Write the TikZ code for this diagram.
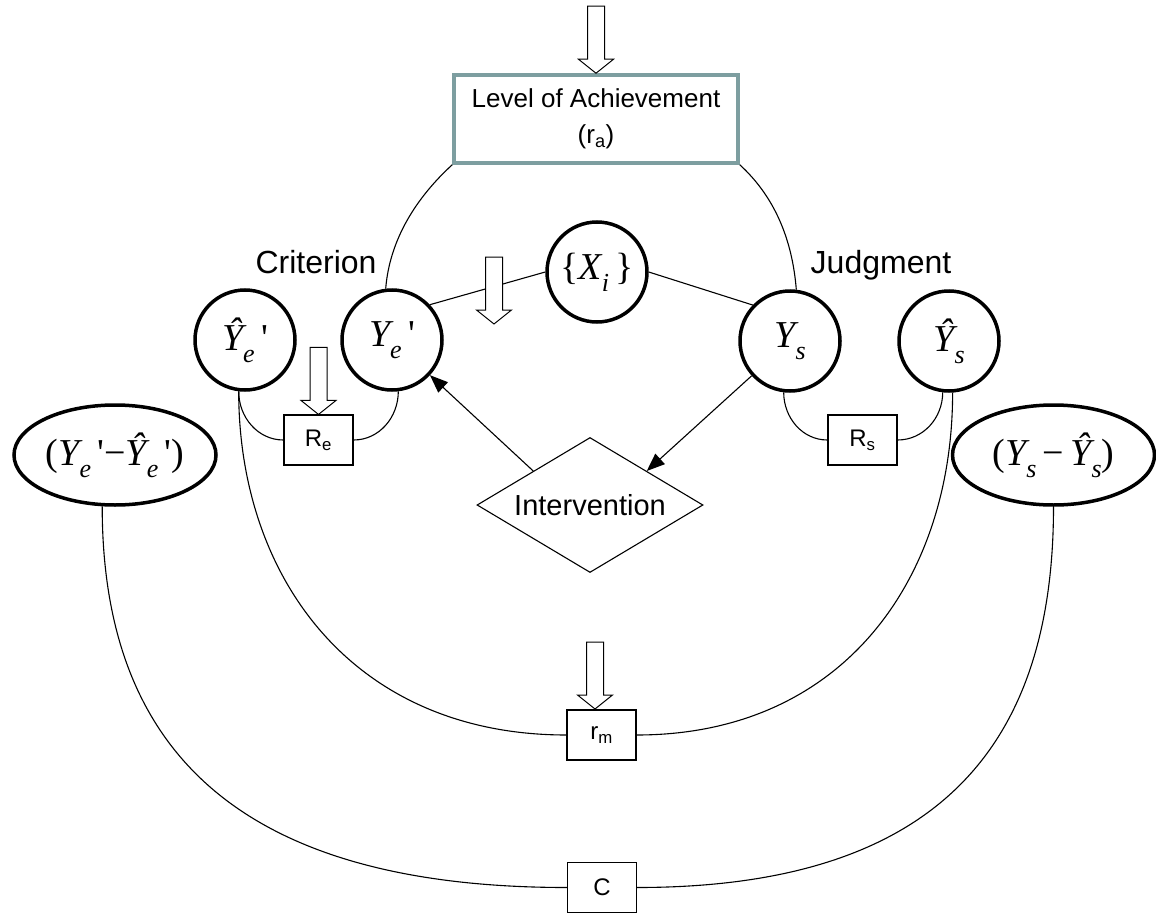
\documentclass[tikz,border=0pt]{standalone}
\usepackage{fontspec}
\setmainfont{Liberation Sans}
\newfontfamily\tms{Liberation Serif}
\usetikzlibrary{shapes.geometric,arrows.meta}
\definecolor{lvlgray}{RGB}{125,158,160}
\newcommand\vsub[1]{\raisebox{-0.32em}{\fontsize{26pt}{26pt}\selectfont #1}}
\newcommand\vprm{{\upshape\,\textquotesingle}}

\begin{document}
\begin{tikzpicture}[x=1pt, y=1pt,
    var/.style={circle, draw=black, line width=3.5pt, fill=white,
        minimum size=100pt, inner sep=0pt,
        font=\tms\fontsize{38pt}{40pt}\selectfont\itshape},
    diff/.style={ellipse, draw=black, line width=3.5pt, fill=white,
        minimum width=202pt, minimum height=100pt, inner sep=0pt,
        font=\tms\fontsize{38pt}{40pt}\selectfont\itshape},
    coef/.style={rectangle, draw=black, line width=1.1pt, fill=white,
        minimum width=69pt, minimum height=50pt, inner sep=0pt,
        font=\fontsize{24pt}{26pt}\selectfont},
    level/.style={rectangle, draw=lvlgray, line width=3.5pt, fill=white,
        minimum width=284pt, minimum height=88pt, inner sep=0pt, align=center,
        font=\fontsize{26pt}{36pt}\selectfont},
    choice/.style={diamond, draw=black, line width=1.1pt, fill=white,
        minimum width=226pt, minimum height=135pt, inner sep=0pt,
        shape aspect=1.674, font=\fontsize{29pt}{30pt}\selectfont},
    title/.style={anchor=base, font=\fontsize{32pt}{34pt}\selectfont},
    edge/.style={line width=1.1pt, -},
    link/.style={line width=1.1pt, -{Triangle[length=18pt, width=14pt]}},
    hollow/.pic={\draw[line width=1pt, fill=white] (-8.5,67) -- (8.5,67)
        -- (8.5,14) -- (17.5,14) -- (0,0) -- (-17.5,14) -- (-8.5,14) -- cycle;}
]
    \useasboundingbox (0,0) rectangle (1156,-915);
    \node[level] (lvl) at (596,-119) {Level of Achievement\\(r\textsubscript{a})};
    \node[var] (hYe) at (245,-340) {\^{Y}\vsub{e}\vprm};
    \node[var] (Ye) at (392,-340) {Y\vsub{e}\vprm};
    \node[var] (X) at (597,-272) {{\upshape\{}X\vsub{i}\,{\upshape\}}};
    \node[var] (Ys) at (790,-341) {Y\vsub{s}};
    \node[var] (hYs) at (949,-341) {\^{Y}\vsub{s}};
    \node[coef] (Re) at (318.5,-440) {R\textsubscript{e}};
    \node[coef] (Rs) at (862.5,-440) {R\textsubscript{s}};
    \node[coef] (rm) at (601.5,-735) {r\textsubscript{m}};
    \node[coef] (C) at (602,-887.5) {C};
    \node[diff] (eL) at (115,-455) {{\upshape(}Y\vsub{e}\vprm{\upshape −}\^{Y}\vsub{e}\vprm{\upshape)}};
    \node[diff] (eR) at (1053.5,-455) {{\upshape(}Y\vsub{s}\,{\upshape−}\,\^{Y}\vsub{s}{\upshape)}};
    \node[choice] (int) at (590,-505) {Intervention};
    \node[title] (crit) at (316,-273) {Criterion};
    \node[title] (judg) at (881,-273) {Judgment};
    \draw[edge] (lvl.south west) .. controls +(-35,-32) and +(4,50) .. (Ye.97);
    \draw[edge] (lvl.south east) .. controls +(35,-32) and +(-4,50) .. (Ys.83);
    \draw[edge] (X.west) -- (Ye.43);
    \draw[edge] (X.east) -- (Ys.136);
    \draw[edge] (hYe.263) to[out=-90, in=180] (Re.west);
    \draw[edge] (Ye.-83) to[out=-90, in=0] (Re.east);
    \draw[edge] (Ys.-97) to[out=-90, in=180] (Rs.west);
    \draw[edge] (hYs.-97) to[out=-90, in=0] (Rs.east);
    \draw[edge] (hYe.263) .. controls +(0,-187) and +(-213,0) .. (rm.west);
    \draw[edge] (hYs.-86) .. controls +(0,-187) and +(206,0) .. (rm.east);
    \draw[edge] (eL.256) .. controls +(0,-235) and +(-338,0) .. (C.west);
    \draw[edge] (eR.south) .. controls +(0,-235) and +(305,0) .. (C.east);
    \draw[link] (int.north west) -- (Ye);
    \draw[link] (Ys) -- (int.north east);
    \pic at (lvl.north) {hollow};
    \pic at (Re.north) {hollow};
    \pic at (595,-709) {hollow};
    \pic at (494,-324) {hollow};
\end{tikzpicture}
\end{document}
